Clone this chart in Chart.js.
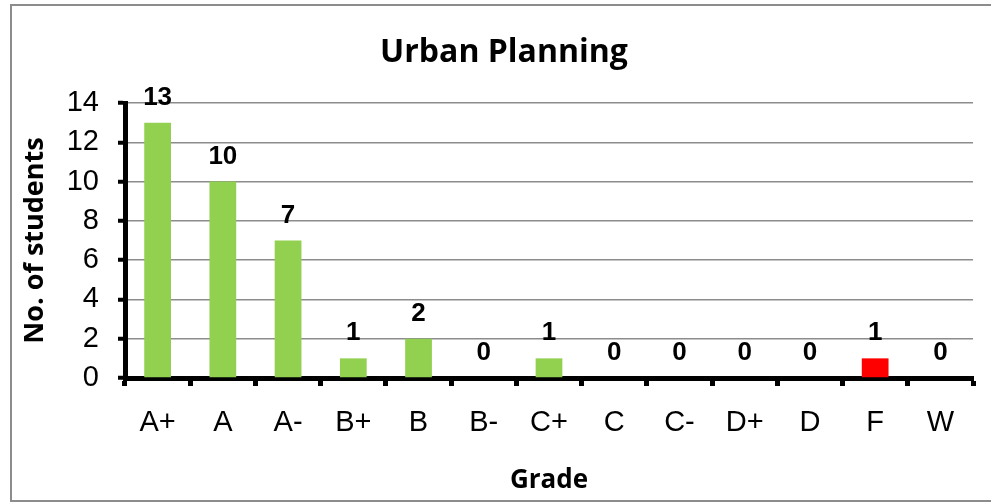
<!DOCTYPE html>
<html>
<head>
<meta charset="utf-8">
<script src="https://cdn.jsdelivr.net/npm/chart.js@4.4.1/dist/chart.umd.min.js"></script>
<style>
  html, body { margin: 0; padding: 0; background: #fff; }
  #wrap { width: 991px; height: 503px; position: relative; }
</style>
</head>
<body>
<div id="wrap"><canvas id="chart"></canvas></div>
<script>
// data
const chartTitle = 'Urban Planning';
const grades = ['A+', 'A', 'A-', 'B+', 'B', 'B-', 'C+', 'C', 'C-', 'D+', 'D', 'F', 'W'];
const students = [13, 10, 7, 1, 2, 0, 1, 0, 0, 0, 0, 1, 0];
const yTicks = [0, 2, 4, 6, 8, 10, 12, 14];

const GREEN = '#92d050';
const RED = '#ff0000';
const GRID = '#8c8c8c';
const TITLE_FONT = '"Open Sans", "DejaVu Sans", sans-serif';
const TICK_FONT = '"Liberation Sans", Arial, sans-serif';

// frame + title drawn on canvas
const framePlugin = {
  id: 'frame',
  beforeDraw(chart) {
    const ctx = chart.ctx;
    ctx.save();
    ctx.fillStyle = '#fff';
    ctx.fillRect(0, 0, chart.width, chart.height);
    ctx.strokeStyle = GRID;
    ctx.lineWidth = 2;
    ctx.strokeRect(11, 5, 1000, 496);
    ctx.restore();
  },
  afterDraw(chart) {
    const ctx = chart.ctx;
    ctx.save();
    ctx.fillStyle = '#000';
    ctx.font = 'bold 32px ' + TITLE_FONT;
    ctx.textAlign = 'center';
    ctx.textBaseline = 'alphabetic';
    ctx.fillText(chartTitle, 504, 62);
    ctx.restore();
  }
};

// value labels above the bars
const valueLabels = {
  id: 'valueLabels',
  afterDatasetsDraw(chart) {
    const ctx = chart.ctx;
    const meta = chart.getDatasetMeta(0);
    ctx.save();
    ctx.fillStyle = '#000';
    ctx.font = 'bold 26px ' + TICK_FONT;
    ctx.textAlign = 'center';
    ctx.textBaseline = 'alphabetic';
    meta.data.forEach((bar, i) => {
      ctx.fillText(String(students[i]), bar.x, bar.y - 18);
    });
    ctx.restore();
  }
};

new Chart(document.getElementById('chart'), {
  type: 'bar',
  data: {
    labels: grades,
    datasets: [{
      data: students,
      backgroundColor: grades.map(g => g === 'F' ? RED : GREEN),
      borderWidth: 0,
      barPercentage: 0.41,
      categoryPercentage: 1
    }]
  },
  options: {
    responsive: true,
    maintainAspectRatio: false,
    animation: false,
    devicePixelRatio: 1,
    layout: { padding: { top: 103, right: 18, left: 0, bottom: 0 } },
    plugins: {
      legend: { display: false },
      title: { display: false },
      tooltip: { enabled: false }
    },
    scales: {
      x: {
        afterFit: s => { s.height = 125; },
        grid: {
          offset: true,
          drawOnChartArea: false,
          drawTicks: true,
          tickLength: 8,
          tickWidth: 5,
          tickColor: '#000'
        },
        border: { display: true, color: '#000', width: 5 },
        ticks: {
          color: '#000',
          padding: 20,
          font: { family: TICK_FONT, size: 29 }
        },
        title: {
          display: true,
          text: 'Grade',
          color: '#000',
          font: { family: TITLE_FONT, size: 26, weight: 'bold' },
          padding: { top: 0, bottom: 7 }
        }
      },
      y: {
        min: 0,
        max: 14,
        afterFit: s => { s.width = 125; },
        afterBuildTicks: s => { s.ticks = yTicks.map(v => ({ value: v })); },
        grid: {
          color: c => (c.tick && c.tick.value === 0) ? 'rgba(0,0,0,0)' : GRID,
          lineWidth: 1.5,
          drawTicks: true,
          tickLength: 7,
          tickWidth: 4,
          tickColor: '#000'
        },
        border: { display: true, color: '#000', width: 5 },
        ticks: {
          color: '#000',
          padding: 19,
          font: { family: TICK_FONT, size: 29 }
        },
        title: {
          display: true,
          text: 'No. of students',
          color: '#000',
          font: { family: TITLE_FONT, size: 27, weight: 'bold' },
          padding: { top: 19, bottom: 0 }
        }
      }
    }
  },
  plugins: [framePlugin, valueLabels]
});
</script>
</body>
</html>
